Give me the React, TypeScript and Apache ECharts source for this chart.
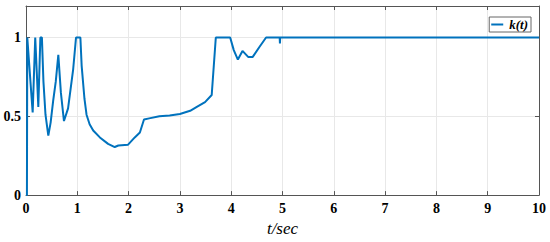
import React, { useEffect, useRef } from "react";
import * as echarts from "echarts";

const timeSec = [
  0, 0.018, 0.025, 0.13, 0.18, 0.24, 0.28, 0.31, 0.34, 0.38, 0.435, 0.48, 0.53, 0.58,
  0.63, 0.68, 0.74, 0.82, 0.92, 0.975, 1.06, 1.085, 1.14, 1.18, 1.24, 1.31, 1.44,
  1.6, 1.73, 1.8, 1.99, 2.12, 2.22, 2.3, 2.4, 2.6, 2.8, 3.0, 3.2, 3.33, 3.49,
  3.62, 3.7, 3.98, 4.05, 4.13, 4.22, 4.33, 4.42, 4.55, 4.68, 4.945, 4.95, 4.955, 10,
];
const kValues = [
  0, 0, 1, 0.525, 1, 0.56, 1, 1, 0.72, 0.51, 0.377, 0.46, 0.6, 0.72,
  0.89, 0.65, 0.47, 0.55, 0.8, 1, 1, 0.82, 0.61, 0.51, 0.45, 0.41, 0.366,
  0.325, 0.305, 0.315, 0.32, 0.366, 0.397, 0.48, 0.487, 0.5, 0.505, 0.515, 0.535, 0.56, 0.59,
  0.635, 1, 1, 0.92, 0.86, 0.915, 0.877, 0.877, 0.94, 1, 1, 0.963, 1, 1,
];
const xTicks = [0, 1, 2, 3, 4, 5, 6, 7, 8, 9, 10];
const yTicks = [0, 0.5, 1];

const SERIF = "serif";

export default function App() {
  const ref = useRef<HTMLDivElement>(null);
  useEffect(() => {
    const chart = echarts.init(ref.current!, null, { renderer: "svg" });
    const data = timeSec.map((t, i) => [t, kValues[i]]);
    const labelStyle = {
      fontFamily: SERIF,
      fontWeight: "bold" as const,
      fontSize: 14,
      color: "#000",
    };
    const axisBase = {
      axisLine: { show: true, onZero: false, lineStyle: { color: "#555", width: 1 } },
      axisTick: { show: true, inside: true, length: 4, lineStyle: { color: "#555" } },
    };
    chart.setOption({
      animation: false,
      backgroundColor: "#fff",
      textStyle: { fontFamily: SERIF },
      grid: { left: 26, right: 11, top: 6, bottom: 41, show: false },
      legend: {
        right: 19,
        top: 17,
        data: ["k(t)"],
        icon: "rect",
        itemWidth: 12,
        itemHeight: 2,
        itemGap: 2,
        padding: [1, 3, 1, 2],
        borderColor: "#666",
        borderWidth: 1,
        backgroundColor: "#fff",
        textStyle: {
          fontFamily: SERIF,
          fontStyle: "italic",
          fontWeight: "bold",
          fontSize: 13,
          color: "#000",
          padding: [0, 0, 0, 1],
        },
      },
      xAxis: [
        {
          type: "value",
          min: 0,
          max: 10,
          interval: 1,
          position: "bottom",
          name: "t/sec",
          nameLocation: "middle",
          nameGap: 22,
          nameTextStyle: {
            fontFamily: SERIF,
            fontStyle: "italic",
            fontSize: 17,
            color: "#000",
          },
          ...axisBase,
          axisLabel: {
            ...labelStyle,
            margin: 6,
            formatter: (v: number) => (xTicks.includes(v) ? String(v) : ""),
          },
          splitLine: { show: true, lineStyle: { color: "#e8e8e8", width: 1 } },
        },
        {
          type: "value",
          min: 0,
          max: 10,
          interval: 1,
          position: "top",
          ...axisBase,
          axisLabel: { show: false },
          splitLine: { show: false },
        },
      ],
      yAxis: [
        {
          type: "value",
          min: 0,
          max: 1.2,
          interval: 0.5,
          position: "left",
          ...axisBase,
          axisLabel: {
            ...labelStyle,
            margin: 5,
            showMaxLabel: false,
            formatter: (v: number) => (yTicks.includes(v) ? String(v) : ""),
          },
          splitLine: { show: true, lineStyle: { color: "#e8e8e8", width: 1 } },
        },
        {
          type: "value",
          min: 0,
          max: 1.2,
          interval: 0.5,
          position: "right",
          ...axisBase,
          axisLabel: { show: false },
          splitLine: { show: false },
        },
      ],
      series: [
        {
          name: "k(t)",
          type: "line",
          xAxisIndex: 0,
          yAxisIndex: 0,
          data,
          showSymbol: false,
          symbol: "none",
          smooth: false,
          lineStyle: { color: "#0072BD", width: 2 },
          itemStyle: { color: "#0072BD" },
        },
      ],
    });
    return () => chart.dispose();
  }, []);
  return (
    <div
      ref={ref}
      style={{ width: 550, height: 242, position: "fixed", left: 0, top: 0 }}
    />
  );
}
